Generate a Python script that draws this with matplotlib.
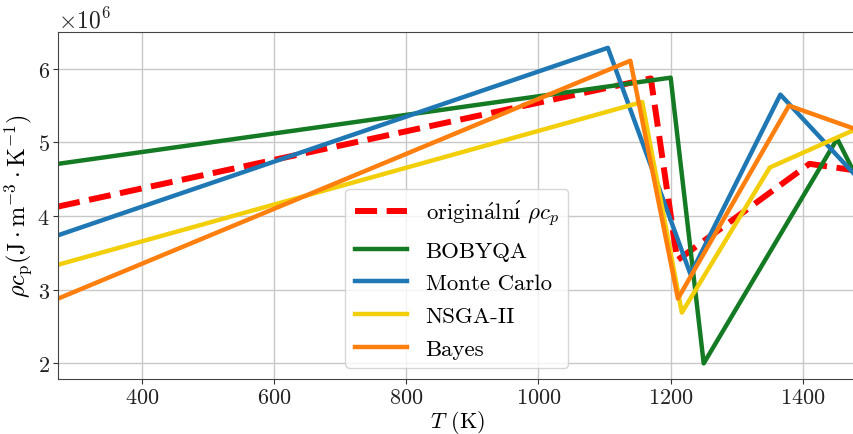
import matplotlib
matplotlib.use("Agg")
import matplotlib.pyplot as plt

plt.rcParams.update({
    "font.family": "serif",
    "font.serif": ["cmr10", "DejaVu Serif"],
    "mathtext.fontset": "cm",
    "axes.formatter.use_mathtext": True,
    "axes.unicode_minus": False,
    "font.size": 16,
})

# Temperature nodes (K) and volumetric heat capacity (J m^-3 K^-1, scaled by 1e6)
T_orig = [273.15, 1170, 1210, 1410, 1480]
rc_orig = [4.13, 5.87, 3.40, 4.71, 4.62]

T_bobyqa = [273.15, 1200, 1250, 1452, 1480]
rc_bobyqa = [4.71, 5.88, 2.00, 5.05, 4.55]

T_mc = [273.15, 1105, 1230, 1366, 1480]
rc_mc = [3.74, 6.285, 3.21, 5.65, 4.55]

T_nsga = [273.15, 1157, 1217, 1350, 1480]
rc_nsga = [3.34, 5.55, 2.69, 4.66, 5.18]

T_bayes = [273.15, 1139, 1211, 1379, 1480]
rc_bayes = [2.88, 6.11, 2.88, 5.50, 5.18]

labels = [r"$\mathrm{origin\acute{a}ln\acute{ı}}$ $\rho c_p$",
          "BOBYQA", "Monte Carlo", "NSGA-II", "Bayes"]

scale = 1e6

fig = plt.figure(figsize=(8.54, 4.35), dpi=100)
ax = fig.add_axes([0.068, 0.126, 0.934, 0.798])

ax.plot(T_orig, [v * scale for v in rc_orig], color="#ff0000", lw=4.3,
        ls="--", label=labels[0])
ax.plot(T_bobyqa, [v * scale for v in rc_bobyqa], color="#157a24", lw=3.2,
        label=labels[1])
ax.plot(T_mc, [v * scale for v in rc_mc], color="#1f77b4", lw=3.2,
        label=labels[2])
ax.plot(T_nsga, [v * scale for v in rc_nsga], color="#f2cf0a", lw=3.2,
        label=labels[3])
ax.plot(T_bayes, [v * scale for v in rc_bayes], color="#ff7f0e", lw=3.2,
        label=labels[4])

ax.set_xlim(273.15, 1480)
ax.set_xticks([400, 600, 800, 1000, 1200, 1400])
ax.set_yticks([2e6, 3e6, 4e6, 5e6, 6e6])
ax.grid(True, color="#c8c8c8", lw=1.0)
ax.set_axisbelow(True)

for s in ax.spines.values():
    s.set_color("#444444")
ax.tick_params(colors="#333333", labelcolor="#222222", labelsize=16, pad=2.5)
ax.yaxis.get_offset_text().set_fontsize(17)

ax.set_xlabel(r"$T$ (K)", fontsize=16, labelpad=1)
ax.set_ylabel(r"$\rho c_\mathrm{p} (\mathrm{J \cdot m^{-3} \cdot K^{-1}})$",
              fontsize=17.5, labelpad=2)

ax.legend(loc="lower center", fontsize=16.5, framealpha=0.8,
          handlelength=2.3, labelspacing=0.55)

fig.savefig("out.png", dpi=100)
